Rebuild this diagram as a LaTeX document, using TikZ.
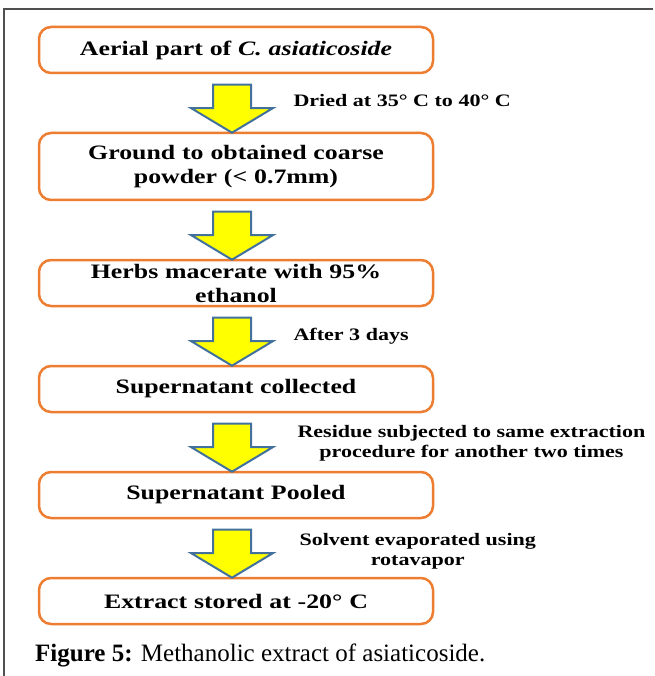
\documentclass[tikz,border=0pt]{standalone}
\usepackage{fontspec}
\setmainfont{Liberation Serif}[FakeStretch=1.26]
\newfontfamily\capfont{Liberation Serif}
\usetikzlibrary{shapes.arrows, positioning, calc}

\definecolor{boxorange}{RGB}{237,125,49}
\definecolor{arrowblue}{RGB}{65,113,156}
\definecolor{arrowyellow}{RGB}{255,255,0}
\definecolor{framegray}{RGB}{80,80,80}

\begin{document}
\begin{tikzpicture}[x=1pt, y=-1pt, node distance=60pt,
    stepbox/.style={draw=boxorange, line width=2.5pt, rounded corners=12pt, fill=white,
        minimum width=394pt, minimum height=46pt, inner sep=0pt, outer sep=0pt,
        text width=380pt, align=center, font=\bfseries\fontsize{20.5}{24}\selectfont},
    downarrow/.style={single arrow, draw=arrowblue, fill=arrowyellow, line width=2pt,
        rotate=-90, inner xsep=0pt, inner ysep=18pt, minimum height=48pt,
        single arrow head extend=22pt, single arrow tip angle=118},
    steplabel/.style={anchor=west, align=center, font=\bfseries\fontsize{17.5}{20}\selectfont}]
    \useasboundingbox (0,0) rectangle (654,676);

    % Rahmen
    \draw[framegray, line width=2pt] (653,9) -- (4,9) -- (4,676);

    % Schritte
    \node (aerial) [stepbox] at (236,50) {Aerial part of \textit{C. asiaticoside}};
    \node (ground) [stepbox, minimum height=67pt, below=of aerial] {Ground to obtained coarse\\powder (< 0.7mm)};
    \node (herbs) [stepbox, below=of ground] {Herbs macerate with 95\%\\ethanol};
    \node (collected) [stepbox, below=of herbs] {Supernatant collected};
    \node (pooled) [stepbox, below=of collected] {Supernatant Pooled};
    \node (stored) [stepbox, below=of pooled] {Extract stored at -20° C};

    % Pfeile zwischen den Schritten
    \node (a1) [downarrow] at ($(aerial.south)!0.5!(ground.north)+(-4,0)$) {};
    \node (a2) [downarrow] at ($(ground.south)!0.5!(herbs.north)+(-4,0)$) {};
    \node (a3) [downarrow] at ($(herbs.south)!0.5!(collected.north)+(-4,0)$) {};
    \node (a4) [downarrow] at ($(collected.south)!0.5!(pooled.north)+(-4,0)$) {};
    \node (a5) [downarrow] at ($(pooled.south)!0.5!(stored.north)+(-4,0)$) {};

    % Beschriftungen
    \node (dried) [steplabel] at ($(a1.center)+(58,-2)$) {Dried at 35° C to 40° C};
    \node (days) [steplabel] at ($(a3.center)+(58,0)$) {After 3 days};
    \node (residue) [steplabel] at ($(a4.center)+(62,1)$) {Residue subjected to same extraction\\procedure for another two times};
    \node (solvent) [steplabel] at ($(a5.center)+(64,3)$) {Solvent evaporated using\\rotavapor};

    % Bildunterschrift
    \node (caption) [anchor=base west, inner sep=0pt, font=\capfont\fontsize{25}{30}\selectfont]
        at (35,661) {\textbf{Figure 5:} Methanolic extract of asiaticoside.};
\end{tikzpicture}
\end{document}
